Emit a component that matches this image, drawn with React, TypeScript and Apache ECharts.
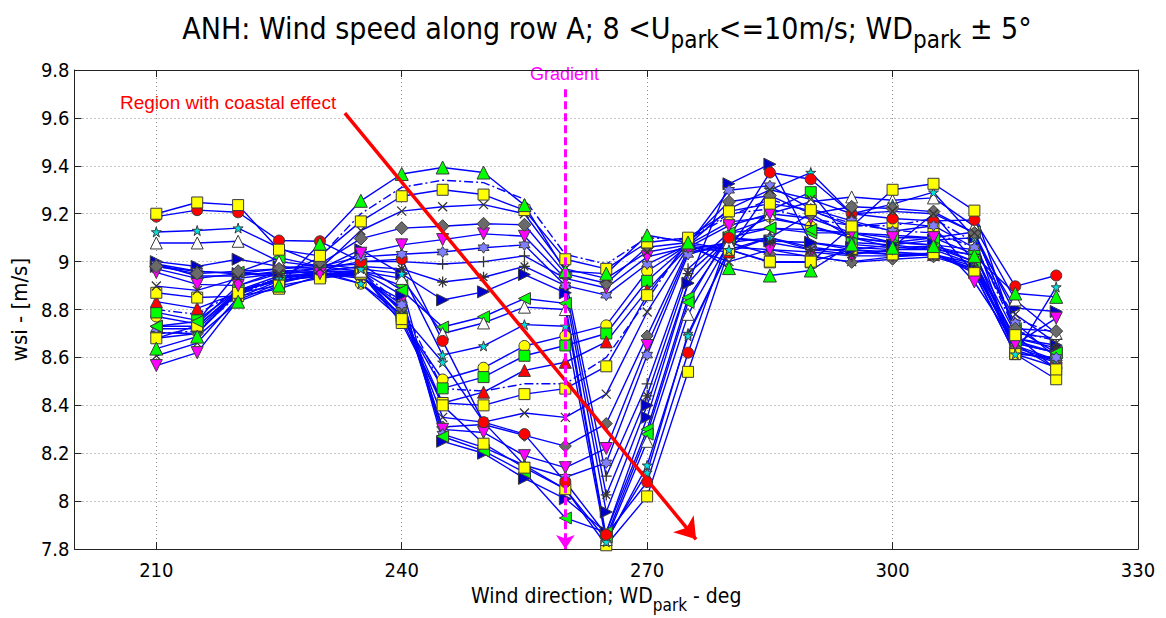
import React, { useEffect, useRef } from "react";
import * as echarts from "echarts";

// ---------------- data ----------------
const XS = [210, 215, 220, 225, 230, 235, 240, 245, 250, 255, 260, 265, 270, 275, 280, 285, 290, 295, 300, 305, 310, 315, 320];
const X_TICKS = [210, 240, 270, 300, 330];

const A_redCircle = [9.188, 9.215, 9.206, 9.088, 9.085, 9.0, 9.01, 8.669, 8.33, 8.28, 8.08, 7.86, 8.08, 8.62, 9.1, 9.372, 9.344, 9.2, 9.18, 9.17, 9.174, 8.897, 8.942];
const B_yellowSq = [9.2, 9.247, 9.236, 9.05, 9.024, 9.168, 9.273, 9.3, 9.28, 9.215, 9.01, 8.97, 9.08, 9.1, 9.21, 9.242, 9.215, 9.147, 9.3, 9.325, 9.213, 8.693, 8.55];
const C_greenTri = [8.637, 8.687, 8.833, 8.9, 9.075, 9.254, 9.366, 9.393, 9.372, 9.236, 8.96, 8.95, 9.11, 9.08, 8.973, 8.942, 8.963, 9.072, 9.058, 9.065, 9.024, 8.867, 8.853];
const D_star = [9.124, 9.13, 9.14, 9.058, 8.99, 8.97, 8.95, 8.61, 8.648, 8.737, 8.73, 7.83, 8.15, 8.69, 9.05, 9.3, 9.372, 9.2, 9.24, 9.29, 9.1, 8.614, 8.894];
const E_whiteTri = [9.078, 9.078, 9.085, 9.0, 8.98, 8.96, 8.93, 8.7, 8.744, 8.81, 8.8, 7.84, 8.25, 8.78, 9.08, 9.2, 9.25, 9.27, 9.256, 9.266, 9.147, 8.84, 8.7];
const F_blueRight = [9.0, 8.98, 9.01, 8.98, 8.97, 9.05, 8.949, 8.84, 8.874, 8.946, 8.87, 7.955, 8.4, 8.91, 9.325, 9.407, 9.08, 9.05, 9.07, 9.09, 9.1, 8.806, 8.792];
const G_magenta = [8.955, 8.905, 8.9, 8.96, 8.95, 9.035, 9.07, 9.092, 9.116, 9.106, 8.93, 8.89, 9.02, 9.06, 9.15, 9.2, 9.181, 9.12, 9.1, 9.1, 8.915, 8.655, 8.764];
const H_hexagram = [8.99, 8.96, 8.95, 8.97, 8.98, 9.02, 9.031, 9.04, 9.058, 9.07, 8.9, 8.86, 8.99, 9.07, 9.298, 9.317, 9.22, 9.17, 9.127, 9.15, 9.058, 8.744, 8.6];
const I_plus = [8.99, 8.94, 8.94, 8.96, 8.97, 9.0, 9.0, 8.99, 9.0, 9.024, 8.93, 8.105, 8.49, 8.97, 9.12, 9.18, 9.15, 9.1, 9.08, 9.1, 9.03, 8.7, 8.68];
const J_asterisk = [8.97, 8.93, 8.95, 8.95, 8.96, 8.98, 8.97, 8.915, 8.935, 8.98, 8.9, 8.026, 8.44, 8.95, 9.1, 9.08, 9.05, 9.03, 9.05, 9.06, 9.0, 8.68, 8.64];
const K_cross = [8.898, 8.88, 8.93, 8.95, 8.97, 9.13, 9.211, 9.229, 9.238, 9.2, 8.97, 8.93, 9.04, 9.07, 9.22, 9.3, 9.26, 9.2, 9.21, 9.2, 9.12, 8.78, 8.66];
const L_greenLeft = [8.73, 8.75, 8.956, 9.017, 8.98, 8.99, 8.88, 8.727, 8.77, 8.846, 8.826, 7.85, 8.28, 8.83, 9.12, 9.14, 9.133, 9.12, 9.11, 9.1, 9.124, 8.72, 8.62];
const M_diamond = [8.98, 8.95, 8.96, 8.97, 8.99, 9.096, 9.14, 9.148, 9.158, 9.154, 8.95, 8.91, 9.06, 9.08, 9.25, 9.276, 9.2, 9.229, 9.222, 9.209, 9.12, 8.72, 8.71];
const N_yellowCircle = [8.771, 8.74, 8.9, 8.95, 8.96, 8.908, 8.758, 8.508, 8.557, 8.648, 8.69, 8.734, 8.96, 9.07, 9.165, 9.188, 9.147, 9.1, 9.08, 9.07, 9.05, 8.614, 8.6];
const O_greenSq = [8.788, 8.755, 8.88, 8.94, 8.95, 8.95, 8.77, 8.471, 8.518, 8.607, 8.65, 8.7, 8.92, 9.07, 9.05, 9.215, 9.29, 9.08, 9.07, 9.05, 9.03, 8.66, 8.62];
const P_redTri = [8.833, 8.805, 8.87, 8.93, 8.96, 8.96, 8.79, 8.41, 8.455, 8.546, 8.58, 8.665, 8.88, 9.06, 9.04, 9.1, 9.05, 9.05, 9.04, 9.03, 8.992, 8.63, 8.58];
const Q_yellowSq2 = [8.87, 8.85, 8.856, 8.887, 8.94, 8.95, 8.744, 8.41, 8.4, 8.447, 8.47, 8.563, 8.86, 9.08, 9.05, 8.997, 8.997, 9.147, 9.164, 9.147, 8.952, 8.614, 8.56];
const T_cross2 = [8.607, 8.66, 8.85, 8.92, 8.94, 8.94, 8.8, 8.35, 8.33, 8.368, 8.35, 8.447, 8.79, 9.06, 9.0, 9.05, 9.02, 9.0, 9.02, 9.03, 8.98, 8.65, 8.59];
const S_diamond2 = [8.703, 8.7, 8.88, 8.92, 8.95, 8.94, 8.806, 8.31, 8.32, 8.275, 8.23, 8.324, 8.69, 9.05, 9.08, 9.031, 9.024, 8.997, 9.01, 9.02, 8.97, 8.64, 8.587];
const R_magenta2 = [8.566, 8.62, 8.84, 8.91, 8.95, 8.93, 8.84, 8.3, 8.287, 8.19, 8.14, 8.22, 8.65, 9.04, 9.06, 9.05, 9.04, 9.024, 9.024, 9.03, 8.96, 8.655, 8.553];
const H2_hexagram2 = [8.72, 8.72, 8.87, 8.93, 8.95, 8.94, 8.82, 8.28, 8.225, 8.15, 8.1, 8.16, 8.61, 9.03, 9.08, 9.1, 9.06, 9.04, 9.03, 9.03, 8.97, 8.66, 8.62];
const U_blueRight2 = [8.98, 8.96, 8.95, 8.94, 8.95, 8.96, 8.86, 8.25, 8.2, 8.095, 8.01, 7.87, 8.35, 8.91, 9.1, 9.086, 9.08, 9.06, 9.05, 9.05, 8.99, 8.68, 8.651];
const V_greenLeft2 = [8.73, 8.73, 8.88, 8.92, 8.94, 8.96, 8.9, 8.27, 8.21, 8.12, 7.93, 7.87, 8.3, 8.85, 9.1, 9.14, 9.12, 9.12, 9.08, 9.07, 9.0, 8.67, 8.62];
const W_star2 = [8.68, 8.7, 8.87, 8.93, 8.95, 8.908, 8.78, 8.58, 8.33, 8.15, 8.05, 7.84, 8.12, 8.7, 9.05, 9.1, 9.2, 9.1, 9.06, 9.2, 9.0, 8.62, 8.59];
const AA_yellowSq3 = [8.68, 8.733, 8.87, 8.9, 8.93, 8.95, 8.76, 8.4, 8.24, 8.14, 8.05, 7.816, 8.02, 8.54, 9.05, 9.0, 9.0, 9.05, 9.03, 9.035, 8.952, 8.614, 8.509];
const Y_dashDot = [8.7, 8.71, 8.86, 8.93, 9.02, 9.2, 9.31, 9.34, 9.33, 9.26, 9.03, 8.99, 9.1, 9.09, 9.19, 9.26, 9.21, 9.16, 9.13, 9.12, 9.06, 8.76, 8.7];
const Z_dashDot2 = [8.8, 8.78, 8.88, 8.93, 8.95, 8.96, 8.82, 8.47, 8.46, 8.49, 8.49, 8.6, 8.84, 9.09, 9.2, 9.22, 9.18, 9.15, 9.15, 9.18, 9.08, 8.71, 8.67];

// annotation anchors (data coordinates)
const ARROW_START = [233.05, 9.62];
const ARROW_END = [275.98, 7.841];
const GRADIENT_X = 260;
const GRADIENT_TOP = 9.72;

// ---------------- symbols ----------------
const SYM = {
  circle: "circle",
  square: "rect",
  up: "triangle",
  down: "path://M0,0L10,0L5,10Z",
  right: "path://M0,0L10,5L0,10Z",
  left: "path://M10,0L0,5L10,10Z",
  diamond: "path://M5,0L9,6L5,12L1,6Z",
  star: "path://M5,0L6.123,3.455L9.755,3.455L6.816,5.59L7.939,9.045L5,6.91L2.061,9.045L3.184,5.59L0.245,3.455L3.877,3.455Z",
  hex: "path://M5,0L6.443,2.5L9.33,2.5L7.887,5L9.33,7.5L6.443,7.5L5,10L3.557,7.5L0.67,7.5L2.113,5L0.67,2.5L3.557,2.5Z",
  plus: "path://M5,0L5,10M0,5L10,5",
  cross: "path://M0,0L10,10M10,0L0,10",
  asterisk: "path://M5,0L5,10M0,5L10,5M1.5,1.5L8.5,8.5M8.5,1.5L1.5,8.5",
};

type Def = { name: string; data: number[]; sym?: string; color?: string; size?: number; dash?: boolean; line?: boolean };

const DEFS: Def[] = [
  { name: "dd1", data: Y_dashDot, dash: true },
  { name: "dd2", data: Z_dashDot2, dash: true },
  { name: "yc", data: N_yellowCircle, sym: SYM.circle, color: "#ffff00", size: 11 },
  { name: "gs", data: O_greenSq, sym: SYM.square, color: "#00ff00", size: 11 },
  { name: "rt", data: P_redTri, sym: SYM.up, color: "#ff0000", size: 12 },
  { name: "ys2", data: Q_yellowSq2, sym: SYM.square, color: "#ffff00", size: 11 },
  { name: "x2", data: T_cross2, sym: SYM.cross, color: "#333333", size: 9, line: true },
  { name: "d2", data: S_diamond2, sym: SYM.diamond, color: "#6a6a6a", size: 12 },
  { name: "m2", data: R_magenta2, sym: SYM.down, color: "#ff00ff", size: 12 },
  { name: "h2", data: H2_hexagram2, sym: SYM.hex, color: "#8080ff", size: 11 },
  { name: "br2", data: U_blueRight2, sym: SYM.right, color: "#0000cc", size: 12 },
  { name: "gl2", data: V_greenLeft2, sym: SYM.left, color: "#00ff00", size: 12 },
  { name: "st2", data: W_star2, sym: SYM.star, color: "#00e0e0", size: 10 },
  { name: "ys3", data: AA_yellowSq3, sym: SYM.square, color: "#ffff00", size: 11 },
  { name: "plus", data: I_plus, sym: SYM.plus, color: "#333333", size: 11, line: true },
  { name: "ast", data: J_asterisk, sym: SYM.asterisk, color: "#333333", size: 11, line: true },
  { name: "br", data: F_blueRight, sym: SYM.right, color: "#0000cc", size: 12 },
  { name: "gl", data: L_greenLeft, sym: SYM.left, color: "#00ff00", size: 12 },
  { name: "wt", data: E_whiteTri, sym: SYM.up, color: "#ffffff", size: 12 },
  { name: "st", data: D_star, sym: SYM.star, color: "#00e0e0", size: 10 },
  { name: "rc", data: A_redCircle, sym: SYM.circle, color: "#ff0000", size: 11 },
  { name: "h", data: H_hexagram, sym: SYM.hex, color: "#8080ff", size: 11 },
  { name: "m", data: G_magenta, sym: SYM.down, color: "#ff00ff", size: 12 },
  { name: "d", data: M_diamond, sym: SYM.diamond, color: "#6a6a6a", size: 13 },
  { name: "x", data: K_cross, sym: SYM.cross, color: "#333333", size: 9, line: true },
  { name: "ys", data: B_yellowSq, sym: SYM.square, color: "#ffff00", size: 11 },
  { name: "gt", data: C_greenTri, sym: SYM.up, color: "#00ff00", size: 13 },
];

const FONT = "'Liberation Sans Narrow', 'DejaVu Sans Condensed', 'Liberation Sans', Arial, sans-serif";
const FONT2 = "'Liberation Sans', Arial, sans-serif";

export default function App() {
  const ref = useRef<HTMLDivElement>(null);
  useEffect(() => {
    if (!ref.current) return;
    const chart = echarts.init(ref.current, undefined, { renderer: "svg" });

    const series: any[] = DEFS.map((d) => ({
      type: "line",
      name: d.name,
      data: XS.map((x, i) => [x, d.data[i]]),
      symbol: d.sym ? d.sym : "none",
      symbolSize: d.size || 10,
      showSymbol: !!d.sym,
      itemStyle: d.line
        ? { color: d.color, borderColor: d.color, borderWidth: 1.3 }
        : { color: d.color, borderColor: "#3a3a3a", borderWidth: 1 },
      lineStyle: d.dash
        ? { color: "#0000ff", width: 1.4, type: [9, 3, 2, 3] }
        : { color: "#0000ff", width: 1.4 },
      silent: true,
      emphasis: { disabled: true },
      z: 2,
    }));

    series.push({
      type: "line",
      name: "coastal",
      data: [ARROW_START],
      symbol: "none",
      silent: true,
      itemStyle: { color: "#ff0000" },
      lineStyle: { color: "#ff0000" },
      z: 5,
      markLine: {
        silent: true,
        symbol: ["none", "arrow"],
        symbolSize: 20,
        label: { show: false },
        itemStyle: { color: "#ff0000" },
        lineStyle: { color: "#ff0000", width: 3.5, type: "solid" },
        data: [[{ coord: ARROW_START }, { coord: ARROW_END }]],
      },
    });
    series.push({
      type: "line",
      name: "gradient",
      data: [[GRADIENT_X, GRADIENT_TOP]],
      symbol: "none",
      silent: true,
      itemStyle: { color: "#ff00ff" },
      lineStyle: { color: "#ff00ff" },
      z: 5,
      markLine: {
        silent: true,
        symbol: ["none", "arrow"],
        symbolSize: 14,
        label: { show: false },
        itemStyle: { color: "#ff00ff" },
        lineStyle: { color: "#ff00ff", width: 3, type: [8, 4] },
        data: [[{ coord: [GRADIENT_X, GRADIENT_TOP] }, { coord: [GRADIENT_X, 7.8] }]],
      },
    });

    const axisLine = { show: true, lineStyle: { color: "#222", width: 1 } };
    const option: any = {
      animation: false,
      backgroundColor: "#ffffff",
      title: {
        text: "{b|ANH: Wind speed along row A; 8 <U}{s|park}{b|<=10m/s; WD}{s|park}{b| ± 5°}",
        left: 602,
        textAlign: "center",
        top: 8,
        textStyle: {
          fontWeight: "normal",
          rich: {
            b: { fontSize: 30, fontWeight: "normal", fontFamily: FONT, color: "#000", lineHeight: 33, verticalAlign: "top" },
            s: { fontSize: 24, fontWeight: "normal", fontFamily: FONT, color: "#000", lineHeight: 33, padding: [15, 0, 0, 0], verticalAlign: "top" },
          },
        },
      },
      grid: { left: 72, right: 28, top: 70, bottom: 61, containLabel: false },
      xAxis: [
        {
          type: "value",
          min: 200,
          max: 330,
          position: "bottom",
          axisLine,
          axisTick: { show: true, inside: true, length: 7, customValues: X_TICKS, lineStyle: { color: "#222" } },
          axisLabel: { customValues: X_TICKS, fontSize: 20, fontFamily: FONT, color: "#000", margin: 11 },
          splitLine: { show: true, lineStyle: { color: "#8c8c8c", type: [1, 3], width: 1 } },
          name: "{b|Wind direction; WD}{s|park}{b| - deg}",
          nameLocation: "middle",
          nameGap: 28,
          nameTextStyle: {
            rich: {
              b: { fontSize: 21, fontFamily: FONT, color: "#000", lineHeight: 24, verticalAlign: "top" },
              s: { fontSize: 17, fontFamily: FONT, color: "#000", lineHeight: 24, padding: [11, 0, 0, 0], verticalAlign: "top" },
            },
          },
        },
        {
          type: "value",
          min: 200,
          max: 330,
          position: "top",
          axisLine,
          axisTick: { show: true, inside: true, length: 7, customValues: X_TICKS, lineStyle: { color: "#222" } },
          axisLabel: { show: false },
          splitLine: { show: false },
        },
      ],
      yAxis: [
        {
          type: "value",
          min: 7.8,
          max: 9.8,
          interval: 0.2,
          position: "left",
          axisLine,
          axisTick: { show: true, inside: true, length: 7, lineStyle: { color: "#222" } },
          axisLabel: { fontSize: 20, fontFamily: FONT, color: "#000", margin: 5, formatter: (v: number) => String(Math.round(v * 10) / 10) },
          splitLine: { show: true, lineStyle: { color: "#8c8c8c", type: [1, 3], width: 1 } },
          name: "wsi - [m/s]",
          nameLocation: "middle",
          nameGap: 38,
          nameRotate: 90,
          nameTextStyle: { fontSize: 22, fontFamily: FONT, color: "#000" },
        },
        {
          type: "value",
          min: 7.8,
          max: 9.8,
          interval: 0.2,
          position: "right",
          axisLine,
          axisTick: { show: true, inside: true, length: 7, lineStyle: { color: "#222" } },
          axisLabel: { show: false },
          splitLine: { show: false },
        },
      ],
      graphic: [
        {
          type: "text",
          left: 120,
          top: 93,
          silent: true,
          style: { text: "Region with coastal effect", fill: "#ff0000", fontSize: 19, fontFamily: FONT2 },
        },
        {
          type: "text",
          left: 530,
          top: 65,
          silent: true,
          style: { text: "Gradient", fill: "#ff00ff", fontSize: 18, fontFamily: FONT2 },
        },
      ],
      series,
    };
    chart.setOption(option);
    return () => chart.dispose();
  }, []);
  return <div ref={ref} style={{ position: "absolute", left: 0, top: 0, width: 1166, height: 618 }} />;
}
